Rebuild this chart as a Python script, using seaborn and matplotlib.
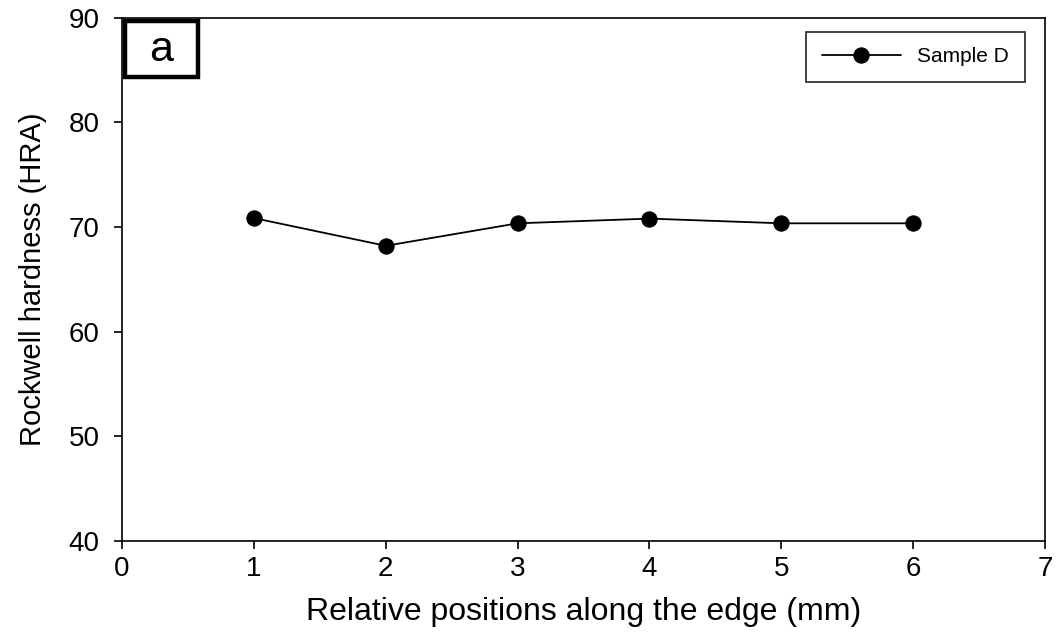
import matplotlib
matplotlib.use("Agg")
import matplotlib.pyplot as plt
from matplotlib.patches import Rectangle
import seaborn as sns
import pandas as pd

positions = [1, 2, 3, 4, 5, 6]
hardness = [70.85, 68.2, 70.35, 70.8, 70.35, 70.35]
series_name = "Sample D"
x_ticks = [0, 1, 2, 3, 4, 5, 6, 7]
y_ticks = [40, 50, 60, 70, 80, 90]

sns.set_theme(style="ticks")
plt.rcParams['font.family'] = ['Liberation Sans', 'DejaVu Sans']
plt.rcParams['text.color'] = 'black'
plt.rcParams['axes.labelcolor'] = 'black'

df = pd.DataFrame({"pos": positions, "hrd": hardness, "series": series_name})

fig = plt.figure(figsize=(10.61, 6.34), dpi=100)
ax = fig.add_axes([0.115, 0.147, 0.870, 0.825])

sns.lineplot(data=df, x="pos", y="hrd", hue="series", palette=["black"],
             marker="o", markersize=11, linewidth=1.3, markeredgecolor="black",
             ax=ax)

ax.set_xlim(0, 7)
ax.set_ylim(40, 90)
ax.set_xticks(x_ticks)
ax.set_yticks(y_ticks)
ax.tick_params(axis="both", direction="out", length=6, width=1.2, labelsize=20,
               colors="black")
ax.tick_params(axis="y", pad=10)
ax.tick_params(axis="x", pad=5)
for s in ax.spines.values():
    s.set_linewidth(1.2)
    s.set_color("black")
    s.set_visible(True)

ax.set_xlabel("Relative positions along the edge (mm)", fontsize=23, labelpad=11)
ax.set_ylabel("Rockwell hardness (HRA)", fontsize=21, labelpad=16)

leg = ax.legend(loc="upper right", bbox_to_anchor=(0.978, 0.973), fontsize=15,
                frameon=True, fancybox=False, edgecolor="black", handlelength=3.8,
                borderpad=0.75, borderaxespad=0, title=None)
leg.get_frame().set_linewidth(1.3)

ax.add_patch(Rectangle((0.003, 0.886), 0.079, 0.108, transform=ax.transAxes,
                       facecolor="white", edgecolor="black", linewidth=3.2,
                       zorder=5, clip_on=False))
ax.text(0.0425, 0.938, "a", transform=ax.transAxes, fontsize=31,
        ha="center", va="center", zorder=6)

fig.savefig("out.png", dpi=100)
